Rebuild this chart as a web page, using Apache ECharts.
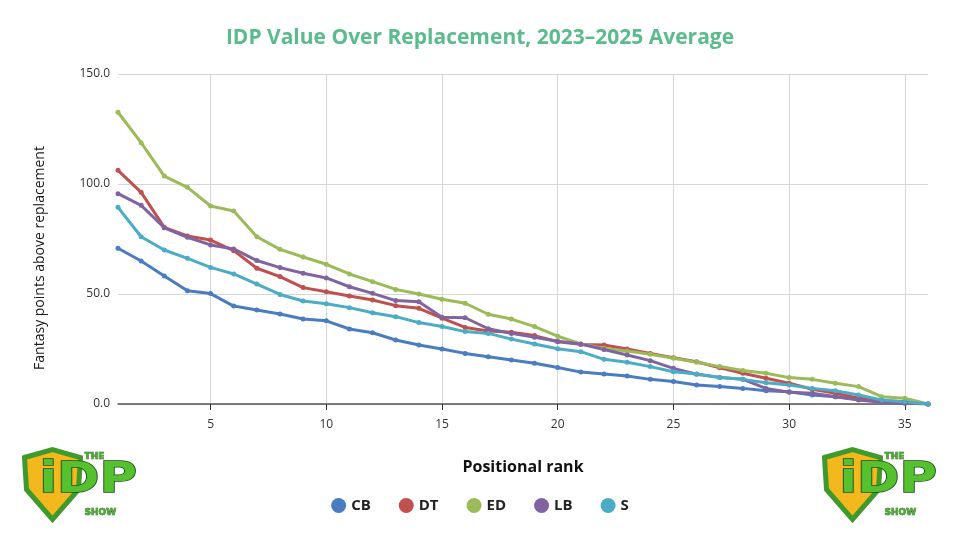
<!DOCTYPE html>
<html>
<head>
<meta charset="utf-8">
<script src="https://cdn.jsdelivr.net/npm/echarts@6/dist/echarts.min.js"></script>
<style>
  html, body { margin: 0; padding: 0; background: #fff; }
  #chart { width: 960px; height: 540px; }
</style>
</head>
<body>
<div id="chart"></div>
<script>
// positional rank 1..36
var ranks = [];
for (var r = 1; r <= 36; r++) ranks.push(String(r));

// points above replacement
var cbValues = [70.8, 65, 58.2, 51.5, 50.2, 44.5, 42.7, 40.9, 38.6, 37.8, 34.1, 32.4, 29.1, 26.8, 25, 23, 21.5, 20, 18.5, 16.6, 14.5, 13.6, 12.7, 11.2, 10.2, 8.6, 7.9, 7.1, 6, 5.6, 4.1, 3.3, 2.1, 1, 0.5, 0];
var dtValues = [106.2, 96.2, 80.3, 76.4, 74.5, 69.7, 61.7, 57.9, 52.9, 51, 49.1, 47.3, 44.7, 43.5, 39, 34.8, 33.2, 32.6, 31.1, 28.3, 27.1, 26.8, 25, 23, 21, 19.2, 16.5, 14, 11.7, 9.4, 6.7, 4.9, 2.6, 1.5, 1, 0];
var edValues = [132.6, 118.8, 103.6, 98.5, 90, 87.7, 76, 70.3, 66.8, 63.5, 59.1, 55.6, 52.1, 50, 47.6, 45.8, 40.8, 38.6, 35.2, 30.8, 27.3, 25.3, 24.1, 22.6, 20.8, 19, 17, 15.2, 14, 12, 11.2, 9.4, 7.9, 3.3, 2.6, 0];
var lbValues = [95.6, 90.3, 80.1, 75.8, 72.3, 70.5, 65.2, 62, 59.4, 57.3, 53.3, 50.3, 47, 46.5, 39.4, 39.2, 34.2, 32.1, 30.3, 28.5, 27.3, 24.8, 22.3, 19.7, 16.2, 13.5, 12.1, 11.2, 7.1, 5.3, 4.9, 3.3, 1.8, 0.8, 0.3, 0];
var sValues = [89.4, 76, 70, 66.2, 62.1, 59.1, 54.5, 49.8, 46.8, 45.6, 43.8, 41.5, 39.7, 37, 35.2, 32.9, 32.1, 29.5, 27.3, 25.1, 23.8, 20.3, 19, 17, 14.7, 13.6, 12, 11.2, 9.7, 8.6, 7.1, 6, 4.1, 1.8, 1, 0];

var positions = ['CB', 'DT', 'ED', 'LB', 'S'];
var colors = ['#4a7cc0', '#c0504d', '#9bbb59', '#8064a2', '#4bacc6'];

var everyFifth = function (index, value) { return Number(value) % 5 === 0; };

function makeSeries(name, data) {
    return {
        name: name,
        type: 'line',
        data: data,
        symbol: 'circle',
        symbolSize: 5,
        lineStyle: { width: 3 },
        emphasis: { disabled: true },
        z: 3
    };
}

// rough shield + wordmark, drawn as a logo stand-in
function logo(x) {
    return {
        type: 'group',
        left: x,
        top: 447,
        children: [
            {
                type: 'polygon',
                shape: { points: [[2, 8], [30, 0], [58, 8], [56, 40], [30, 70], [4, 40]] },
                style: { fill: '#f2b81c', stroke: '#3f9a2c', lineWidth: 5 }
            },
            {
                type: 'text',
                x: 62, y: 3,
                style: { text: 'THE', font: 'bold 9px "DejaVu Sans"', fill: '#49b02e', stroke: '#1f4d16', lineWidth: 0.6 }
            },
            {
                type: 'text',
                x: 17, y: 11,
                scaleX: 1.22,
                style: { text: 'iDP', font: 'bold 42px "DejaVu Sans"', fill: '#55c12f', stroke: '#1b4a14', lineWidth: 1.5 }
            },
            {
                type: 'text',
                x: 62, y: 59,
                style: { text: 'SHOW', font: 'bold 9px "DejaVu Sans"', fill: '#49b02e', stroke: '#1f4d16', lineWidth: 0.6 }
            }
        ]
    };
}

var chart = echarts.init(document.getElementById('chart'), null, { renderer: 'canvas' });

var option = {
    backgroundColor: '#ffffff',
    animation: false,
    color: colors,
    title: {
        text: 'IDP Value Over Replacement, 2023\u20132025 Average',
        left: 'center',
        top: 23,
        textStyle: { fontFamily: 'Open Sans', fontWeight: 'bold', fontSize: 21, color: '#5bbb8c' }
    },
    legend: {
        data: positions,
        left: 'center',
        top: 493,
        icon: 'circle',
        itemWidth: 15,
        itemHeight: 15,
        itemGap: 28,
        textStyle: { fontFamily: 'Open Sans', fontWeight: 'bold', fontSize: 15, color: '#222' }
    },
    grid: { left: 118, right: 32, top: 74, bottom: 136 },
    xAxis: {
        type: 'category',
        data: ranks,
        boundaryGap: false,
        name: 'Positional rank',
        nameLocation: 'middle',
        nameGap: 55,
        nameTextStyle: { fontFamily: 'Open Sans', fontWeight: 'bold', fontSize: 16, color: '#111' },
        axisLine: { show: true, lineStyle: { color: '#555', width: 1.5 } },
        axisTick: { show: true, interval: everyFifth, length: 6, lineStyle: { color: '#333' } },
        axisLabel: { interval: everyFifth, margin: 15, fontFamily: 'Open Sans', fontSize: 12, color: '#333' },
        splitLine: { show: true, interval: everyFifth, lineStyle: { color: '#d6d6d6', width: 1 } }
    },
    yAxis: {
        type: 'value',
        min: 0,
        max: 150,
        interval: 50,
        axisLine: { show: false },
        axisTick: { show: false },
        axisLabel: {
            margin: 8,
            fontFamily: 'Open Sans',
            fontSize: 12,
            color: '#333',
            formatter: function (v) { return v.toFixed(1); }
        },
        splitLine: { lineStyle: { color: '#d6d6d6', width: 1 } }
    },
    series: [
        makeSeries('CB', cbValues),
        makeSeries('DT', dtValues),
        makeSeries('ED', edValues),
        makeSeries('LB', lbValues),
        makeSeries('S', sValues)
    ],
    graphic: [
        logo(22),
        logo(822),
        {
            // y axis title sits a bit below the plot's middle in the original
            type: 'text',
            x: 40,
            y: 258,
            rotation: Math.PI / 2,
            style: {
                text: 'Fantasy points above replacement',
                font: '500 14px "Open Sans"',
                fill: '#1a1a1a',
                align: 'center',
                verticalAlign: 'middle'
            }
        }
    ]
};

chart.setOption(option);
</script>
</body>
</html>
